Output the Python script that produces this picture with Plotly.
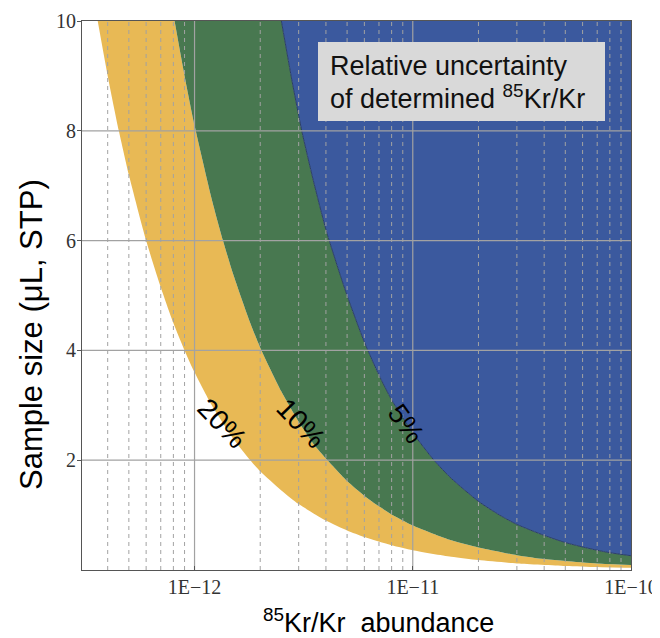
import math
import plotly.graph_objects as go

# 20% boundary (white | yellow)
abund_20 = [3.6e-13, 4e-13, 4.5e-13, 5e-13, 6e-13, 7e-13, 8e-13, 9e-13, 1e-12, 1.2e-12,
            1.5e-12, 1.8e-12, 2e-12, 2.5e-12, 3e-12, 4e-12, 5e-12, 6e-12, 8e-12, 1e-11,
            1.5e-11, 2e-11, 3e-11, 5e-11, 7e-11, 1e-10]
size_20 = [10.0, 9.0, 8.0, 7.2, 6.0, 5.15, 4.5, 4.0, 3.6, 3.0,
           2.4, 2.0, 1.8, 1.45, 1.2, 0.9, 0.72, 0.6, 0.45, 0.36,
           0.24, 0.18, 0.12, 0.075, 0.055, 0.04]

# 10% boundary (yellow | green)
abund_10 = [8.1e-13, 9e-13, 1e-12, 1.2e-12, 1.35e-12, 1.5e-12, 1.8e-12, 2e-12, 2.5e-12, 3e-12,
            3.5e-12, 4e-12, 5e-12, 6e-12, 7e-12, 8e-12, 1e-11, 1.5e-11, 2e-11, 3e-11,
            4e-11, 5e-11, 7e-11, 1e-10]
size_10 = [10.0, 9.0, 8.1, 6.75, 6.0, 5.4, 4.5, 4.05, 3.25, 2.7,
           2.3, 2.03, 1.62, 1.35, 1.16, 1.01, 0.81, 0.54, 0.41, 0.27,
           0.2, 0.165, 0.12, 0.09]

# 5% boundary (green | blue)
abund_5 = [2.5e-12, 2.8e-12, 3.1e-12, 3.5e-12, 4e-12, 4.5e-12, 5e-12, 6e-12, 7e-12, 8e-12,
           1e-11, 1.25e-11, 1.5e-11, 2e-11, 2.5e-11, 3e-11, 4e-11, 5e-11, 6e-11, 7e-11,
           8e-11, 1e-10]
size_5 = [10.0, 8.9, 8.0, 7.1, 6.2, 5.55, 5.0, 4.15, 3.55, 3.1,
          2.5, 2.0, 1.67, 1.25, 1.0, 0.83, 0.63, 0.5, 0.42, 0.36,
          0.315, 0.26]

x_min, x_max = 3.05e-13, 1e-10
y_min, y_max = 0, 10

major_x = [1e-12, 1e-11, 1e-10]
major_x_text = ["1E\u221212", "1E\u221211", "1E\u221210"]
minor_x = [m * 10.0 ** e for e in (-13, -12, -11) for m in range(2, 10) if m * 10.0 ** e > x_min]
grid_y = [2, 4, 6, 8]
y_ticks = [2, 4, 6, 8, 10]

YELLOW = "#E8B955"
GREEN = "#487850"
BLUE = "#3B599E"
GRID = "#A2A2A2"
SANS = "Liberation Sans, Arial, sans-serif"
SERIF = "Liberation Serif, Times New Roman, serif"

fig = go.Figure()

# region fills
spl = dict(width=0, shape="spline", smoothing=0.6)
fig.add_trace(go.Scatter(x=abund_20, y=size_20, mode="lines", line=spl, hoverinfo="skip"))
fig.add_trace(go.Scatter(x=abund_10, y=size_10, mode="lines", line=spl,
                         fill="tonexty", fillcolor=YELLOW, hoverinfo="skip"))
fig.add_trace(go.Scatter(x=abund_5, y=size_5, mode="lines", line=spl,
                         fill="tonexty", fillcolor=GREEN, hoverinfo="skip"))
fig.add_trace(go.Scatter(x=[abund_5[0], x_max], y=[y_max, y_max], mode="lines", line=dict(width=0),
                         fill="tonexty", fillcolor=BLUE, hoverinfo="skip"))
# thin edge along the 5% boundary
fig.add_trace(go.Scatter(x=abund_5, y=size_5, mode="lines",
                         line=dict(width=1, color="#2C3F66", shape="spline", smoothing=0.6), hoverinfo="skip"))


# grid lines drawn over the fills
def vlines(xs):
    px, py = [], []
    for v in xs:
        px += [v, v, None]
        py += [y_min, y_max, None]
    return px, py


gx, gy = vlines(minor_x)
fig.add_trace(go.Scatter(x=gx, y=gy, mode="lines", line=dict(color=GRID, width=1, dash="4px,4px"),
                         hoverinfo="skip"))
gx, gy = vlines(major_x[:-1])
fig.add_trace(go.Scatter(x=gx, y=gy, mode="lines", line=dict(color=GRID, width=1.2), hoverinfo="skip"))
hx, hy = [], []
for v in grid_y:
    hx += [x_min, x_max, None]
    hy += [v, v, None]
fig.add_trace(go.Scatter(x=hx, y=hy, mode="lines", line=dict(color=GRID, width=1.2), hoverinfo="skip"))

# the page body adds an 8px margin, so the figure is laid out 8px smaller
OFF = 8
W, H = 660 - OFF, 638 - OFF
ml, mr, mt, mb = 82 - OFF, 29, 21 - OFF, 68
pw, ph = W - ml - mr, H - mt - mb


def px_x(p):
    return (p - OFF - ml) / pw


def px_y(p):
    return 1 - (p - OFF - mt) / ph


# legend box
fig.add_shape(type="rect", xref="paper", yref="paper", x0=px_x(318), x1=px_x(605), y0=px_y(121), y1=px_y(42),
              fillcolor="#D9D9D9", line=dict(width=0), layer="above")
box_font = dict(family=SANS, size=27, color="#111")
fig.add_annotation(xref="paper", yref="paper", x=px_x(328), y=px_y(66), xanchor="left", yanchor="middle",
                   text="Relative uncertainty", showarrow=False, font=box_font)
fig.add_annotation(xref="paper", yref="paper", x=px_x(328), y=px_y(97), xanchor="left", yanchor="middle",
                   text="of determined <sup>85</sup>Kr/Kr", showarrow=False, font=box_font)

# percentage labels along the boundaries
pct_font = dict(family=SANS, size=28, color="#000")
pct_labels = ["20%", "10%", "5%"]
pct_pos = [(1.34e-12, 2.67), (3.08e-12, 2.67), (9.3e-12, 2.67)]
pct_angle = [46, 46, 54]
for t, (xv, yv), a in zip(pct_labels, pct_pos, pct_angle):
    fig.add_annotation(x=math.log10(xv), y=yv, text=t, showarrow=False, textangle=a, font=pct_font)

# axis titles
fig.add_annotation(xref="paper", yref="paper", x=px_x(378), y=px_y(621), xanchor="center", yanchor="middle",
                   text="<sup>85</sup>Kr/Kr\u00a0 abundance", showarrow=False,
                   font=dict(family=SANS, size=27, color="#000"))
fig.add_annotation(xref="paper", yref="paper", x=px_x(31), y=px_y(335), xanchor="center", yanchor="middle",
                   text="Sample size (\u03bcL, STP)", showarrow=False, textangle=-90,
                   font=dict(family=SANS, size=31, color="#000"))

fig.update_layout(
    width=W, height=H,
    margin=dict(l=ml, r=mr, t=mt, b=mb, autoexpand=False),
    plot_bgcolor="white", paper_bgcolor="white",
    showlegend=False,
    xaxis=dict(type="log", range=[math.log10(x_min), math.log10(x_max)], automargin=False,
               tickvals=major_x, ticktext=major_x_text, showgrid=False, zeroline=False,
               showline=True, linecolor="#555", linewidth=1.2, mirror=True,
               ticks="inside", ticklen=4, tickcolor="#555", ticklabelstandoff=-1,
               tickfont=dict(family=SERIF, size=20, color="#333")),
    yaxis=dict(range=[y_min, y_max], automargin=False, tickvals=y_ticks, showgrid=False, zeroline=False,
               showline=True, linecolor="#555", linewidth=1.2, mirror=True,
               ticks="outside", ticklen=4, tickcolor="#555", ticklabelstandoff=-3,
               tickfont=dict(family=SERIF, size=20, color="#333")),
)

fig.write_html("out.html")
